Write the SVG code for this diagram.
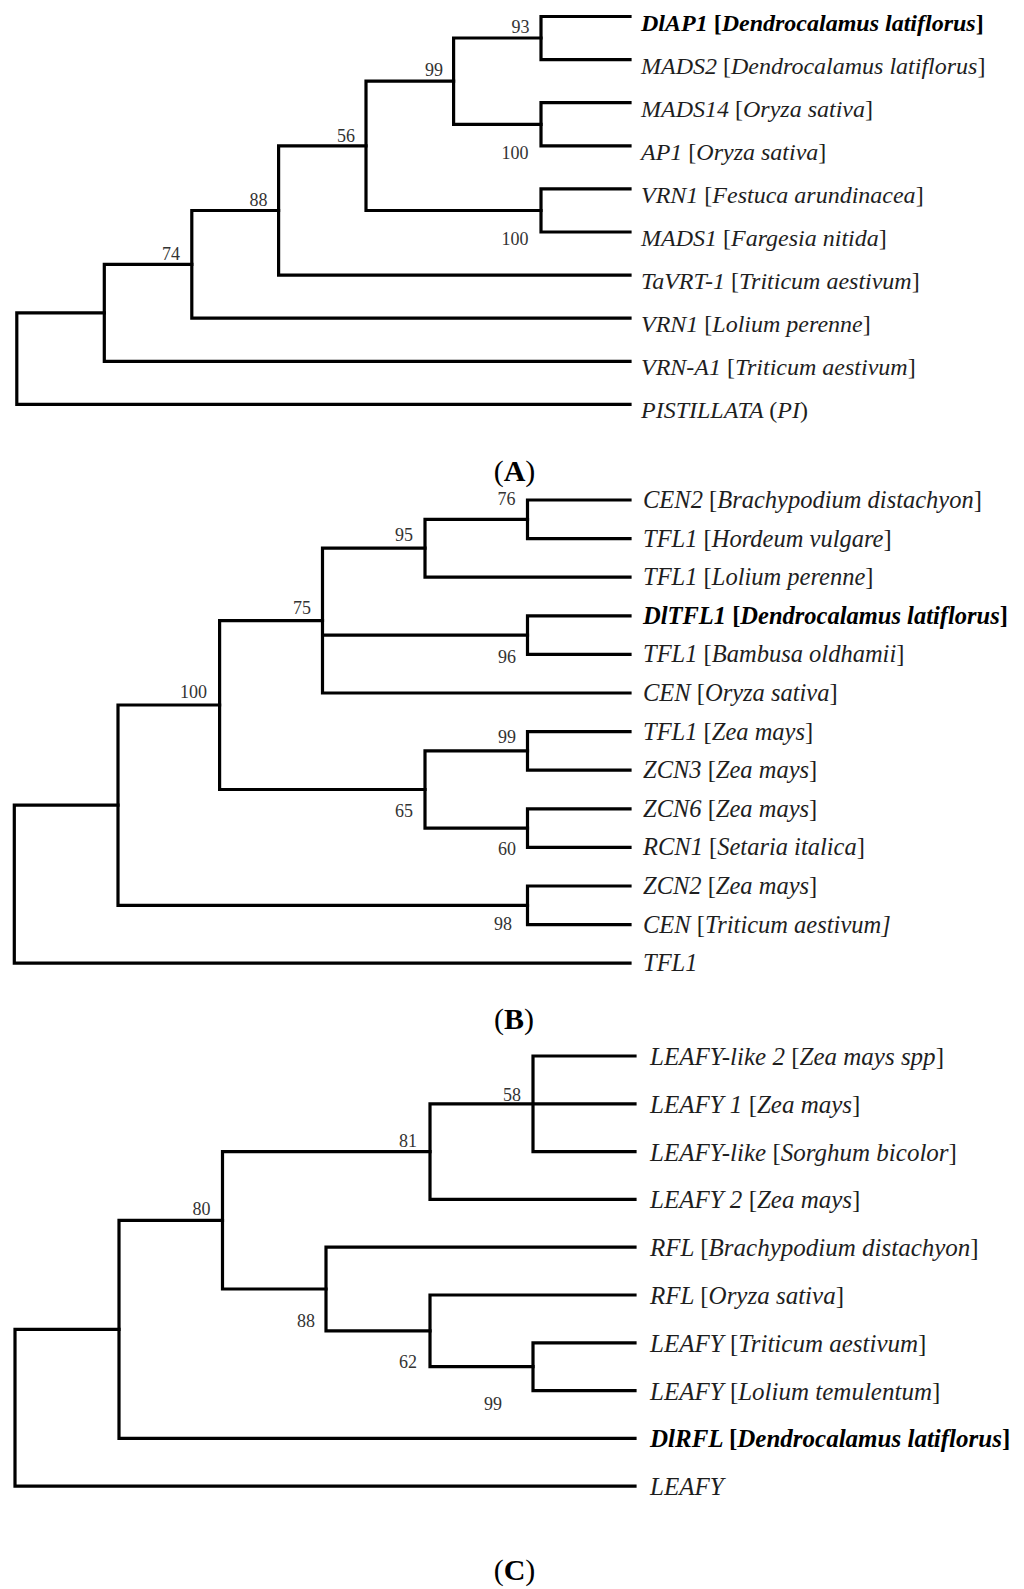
<svg xmlns="http://www.w3.org/2000/svg" width="1024" height="1589" viewBox="0 0 1024 1589">
<style>
.br{fill:none;stroke:#000;stroke-width:3.2;stroke-linecap:square;stroke-linejoin:miter}
.bs{font-family:"Liberation Serif","Times New Roman",serif;font-size:18px;fill:#333;text-anchor:end}
.lf{font-family:"Liberation Serif","Times New Roman",serif;font-style:italic;fill:#1e1e1e}
.la{font-size:24px}
.lb{font-size:24.5px}
.lc{font-size:25px}
.r{font-style:normal}
.bd{font-weight:bold;fill:#000}
.cap{font-family:"Liberation Serif","Times New Roman",serif;font-size:30px;font-weight:bold;fill:#000;text-anchor:middle}
.cp{font-weight:normal}
</style>
<rect width="1024" height="1589" fill="#fff"/>

<g id="connectors">
  <g id="connectors-A">
    <path class="br" d="M630 16.5H541V59.6H630"/>
    <path class="br" d="M630 102.7H541V145.8H630"/>
    <path class="br" d="M541 38H453.6V124.3H541"/>
    <path class="br" d="M630 188.9H541V232H630"/>
    <path class="br" d="M453.6 81.2H366V210.5H541"/>
    <path class="br" d="M366 145.8H278.6V275.1H630"/>
    <path class="br" d="M278.6 210.5H191.8V318.2H630"/>
    <path class="br" d="M191.8 264.3H104.3V361.3H630"/>
    <path class="br" d="M104.3 312.8H16.8V404.4H630"/>
  </g>
  <g id="connectors-B">
    <path class="br" d="M630 500H527.5V538.6H630"/>
    <path class="br" d="M527.5 519.3H425V577.2H630"/>
    <path class="br" d="M630 615.8H527.5V654.4H630"/>
    <path class="br" d="M425 548.2H322.5V693H630M322.5 635.1H527.5"/>
    <path class="br" d="M630 731.6H527.5V770.2H630"/>
    <path class="br" d="M630 808.8H527.5V847.4H630"/>
    <path class="br" d="M527.5 750.9H425V828.1H527.5"/>
    <path class="br" d="M322.5 620.6H219.6V789.5H425"/>
    <path class="br" d="M630 886H527.5V924.6H630"/>
    <path class="br" d="M219.6 705H118V905.3H527.5"/>
    <path class="br" d="M118 805.2H14.3V963.2H630"/>
  </g>
  <g id="connectors-C">
    <path class="br" d="M635 1056H533V1151.6H635"/>
    <path class="br" d="M430 1103.8H635M430 1103.8V1199.4H635"/>
    <path class="br" d="M635 1342.8H533V1390.6H635"/>
    <path class="br" d="M635 1295H430V1366.7H533"/>
    <path class="br" d="M635 1247.2H326V1330.9H430"/>
    <path class="br" d="M430 1151.6H222.5V1289H326"/>
    <path class="br" d="M222.5 1220.3H119V1438.4H635"/>
    <path class="br" d="M119 1329.4H15V1486.2H635"/>
  </g>
</g>

<g id="panelA">
  <g id="A-bootstrap">
    <text class="bs" x="529.5" y="33">93</text>
    <text class="bs" x="443" y="76">99</text>
    <text class="bs" x="355" y="141.5">56</text>
    <text class="bs" x="267.5" y="205.5">88</text>
    <text class="bs" x="180" y="259.5">74</text>
    <text class="bs" x="528.5" y="158.5">100</text>
    <text class="bs" x="528.5" y="245">100</text>
  </g>
  <g id="A-DlAP1"><text class="lf la bd" x="641" y="30.5">DlAP1 <tspan class="r">[</tspan>Dendrocalamus latiflorus<tspan class="r">]</tspan></text></g>
  <g id="A-MADS2"><text class="lf la" x="641" y="73.6">MADS2 <tspan class="r">[</tspan>Dendrocalamus latiflorus<tspan class="r">]</tspan></text></g>
  <g id="A-MADS14"><text class="lf la" x="641" y="116.7">MADS14 <tspan class="r">[</tspan>Oryza sativa<tspan class="r">]</tspan></text></g>
  <g id="A-AP1"><text class="lf la" x="641" y="159.8">AP1 <tspan class="r">[</tspan>Oryza sativa<tspan class="r">]</tspan></text></g>
  <g id="A-VRN1-F"><text class="lf la" x="641" y="202.9">VRN1 <tspan class="r">[</tspan>Festuca arundinacea<tspan class="r">]</tspan></text></g>
  <g id="A-MADS1"><text class="lf la" x="641" y="246">MADS1 <tspan class="r">[</tspan>Fargesia nitida<tspan class="r">]</tspan></text></g>
  <g id="A-TaVRT1"><text class="lf la" x="641" y="289.1">TaVRT-1 <tspan class="r">[</tspan>Triticum aestivum<tspan class="r">]</tspan></text></g>
  <g id="A-VRN1-L"><text class="lf la" x="641" y="332.2">VRN1 <tspan class="r">[</tspan>Lolium perenne<tspan class="r">]</tspan></text></g>
  <g id="A-VRNA1"><text class="lf la" x="641" y="375.3">VRN-A1 <tspan class="r">[</tspan>Triticum aestivum<tspan class="r">]</tspan></text></g>
  <g id="A-PI"><text class="lf la" x="641" y="418.4">PISTILLATA <tspan class="r">(</tspan>PI<tspan class="r">)</tspan></text></g>
  <g id="A-caption"><text class="cap" x="514.5" y="481"><tspan class="cp">(</tspan>A<tspan class="cp">)</tspan></text></g>
</g>

<g id="panelB">
  <g id="B-bootstrap">
    <text class="bs" x="515.5" y="505">76</text>
    <text class="bs" x="413" y="541">95</text>
    <text class="bs" x="311" y="614">75</text>
    <text class="bs" x="207" y="698">100</text>
    <text class="bs" x="516" y="663">96</text>
    <text class="bs" x="516" y="743">99</text>
    <text class="bs" x="413" y="817">65</text>
    <text class="bs" x="516" y="855">60</text>
    <text class="bs" x="512" y="930">98</text>
  </g>
  <g id="B-CEN2"><text class="lf lb" x="643" y="508">CEN2 <tspan class="r">[</tspan>Brachypodium distachyon<tspan class="r">]</tspan></text></g>
  <g id="B-TFL1-H"><text class="lf lb" x="643" y="546.6">TFL1 <tspan class="r">[</tspan>Hordeum vulgare<tspan class="r">]</tspan></text></g>
  <g id="B-TFL1-L"><text class="lf lb" x="643" y="585.2">TFL1 <tspan class="r">[</tspan>Lolium perenne<tspan class="r">]</tspan></text></g>
  <g id="B-DlTFL1"><text class="lf lb bd" x="643" y="623.8">DlTFL1 <tspan class="r">[</tspan>Dendrocalamus latiflorus<tspan class="r">]</tspan></text></g>
  <g id="B-TFL1-B"><text class="lf lb" x="643" y="662.4">TFL1 <tspan class="r">[</tspan>Bambusa oldhamii<tspan class="r">]</tspan></text></g>
  <g id="B-CEN-O"><text class="lf lb" x="643" y="701">CEN <tspan class="r">[</tspan>Oryza sativa<tspan class="r">]</tspan></text></g>
  <g id="B-TFL1-Z"><text class="lf lb" x="643" y="739.6">TFL1 <tspan class="r">[</tspan>Zea mays<tspan class="r">]</tspan></text></g>
  <g id="B-ZCN3"><text class="lf lb" x="643" y="778.2">ZCN3 <tspan class="r">[</tspan>Zea mays<tspan class="r">]</tspan></text></g>
  <g id="B-ZCN6"><text class="lf lb" x="643" y="816.8">ZCN6 <tspan class="r">[</tspan>Zea mays<tspan class="r">]</tspan></text></g>
  <g id="B-RCN1"><text class="lf lb" x="643" y="855.4">RCN1 <tspan class="r">[</tspan>Setaria italica<tspan class="r">]</tspan></text></g>
  <g id="B-ZCN2"><text class="lf lb" x="643" y="894">ZCN2 <tspan class="r">[</tspan>Zea mays<tspan class="r">]</tspan></text></g>
  <g id="B-CEN-T"><text class="lf lb" x="643" y="932.6">CEN <tspan class="r">[</tspan>Triticum aestivum]</text></g>
  <g id="B-TFL1"><text class="lf lb" x="643" y="971.2">TFL1</text></g>
  <g id="B-caption"><text class="cap" x="514" y="1029"><tspan class="cp">(</tspan>B<tspan class="cp">)</tspan></text></g>
</g>

<g id="panelC">
  <g id="C-bootstrap">
    <text class="bs" x="521" y="1100.5">58</text>
    <text class="bs" x="417" y="1146.5">81</text>
    <text class="bs" x="210.5" y="1215">80</text>
    <text class="bs" x="315" y="1327">88</text>
    <text class="bs" x="417" y="1368">62</text>
    <text class="bs" x="502" y="1410">99</text>
  </g>
  <g id="C-LFYL2"><text class="lf lc" x="650" y="1065">LEAFY-like 2 <tspan class="r">[</tspan>Zea mays spp<tspan class="r">]</tspan></text></g>
  <g id="C-LFY1"><text class="lf lc" x="650" y="1112.8">LEAFY 1 <tspan class="r">[</tspan>Zea mays<tspan class="r">]</tspan></text></g>
  <g id="C-LFYL"><text class="lf lc" x="650" y="1160.6">LEAFY-like <tspan class="r">[</tspan>Sorghum bicolor<tspan class="r">]</tspan></text></g>
  <g id="C-LFY2"><text class="lf lc" x="650" y="1208.4">LEAFY 2 <tspan class="r">[</tspan>Zea mays<tspan class="r">]</tspan></text></g>
  <g id="C-RFL-B"><text class="lf lc" x="650" y="1256.2">RFL <tspan class="r">[</tspan>Brachypodium distachyon<tspan class="r">]</tspan></text></g>
  <g id="C-RFL-O"><text class="lf lc" x="650" y="1304">RFL <tspan class="r">[</tspan>Oryza sativa<tspan class="r">]</tspan></text></g>
  <g id="C-LFY-T"><text class="lf lc" x="650" y="1351.8">LEAFY <tspan class="r">[</tspan>Triticum aestivum<tspan class="r">]</tspan></text></g>
  <g id="C-LFY-L"><text class="lf lc" x="650" y="1399.6">LEAFY <tspan class="r">[</tspan>Lolium temulentum<tspan class="r">]</tspan></text></g>
  <g id="C-DlRFL"><text class="lf lc bd" x="650" y="1447.4">DlRFL <tspan class="r">[</tspan>Dendrocalamus latiflorus<tspan class="r">]</tspan></text></g>
  <g id="C-LEAFY"><text class="lf lc" x="650" y="1495.2">LEAFY</text></g>
  <g id="C-caption"><text class="cap" x="514.5" y="1580"><tspan class="cp">(</tspan>C<tspan class="cp">)</tspan></text></g>
</g>
</svg>
